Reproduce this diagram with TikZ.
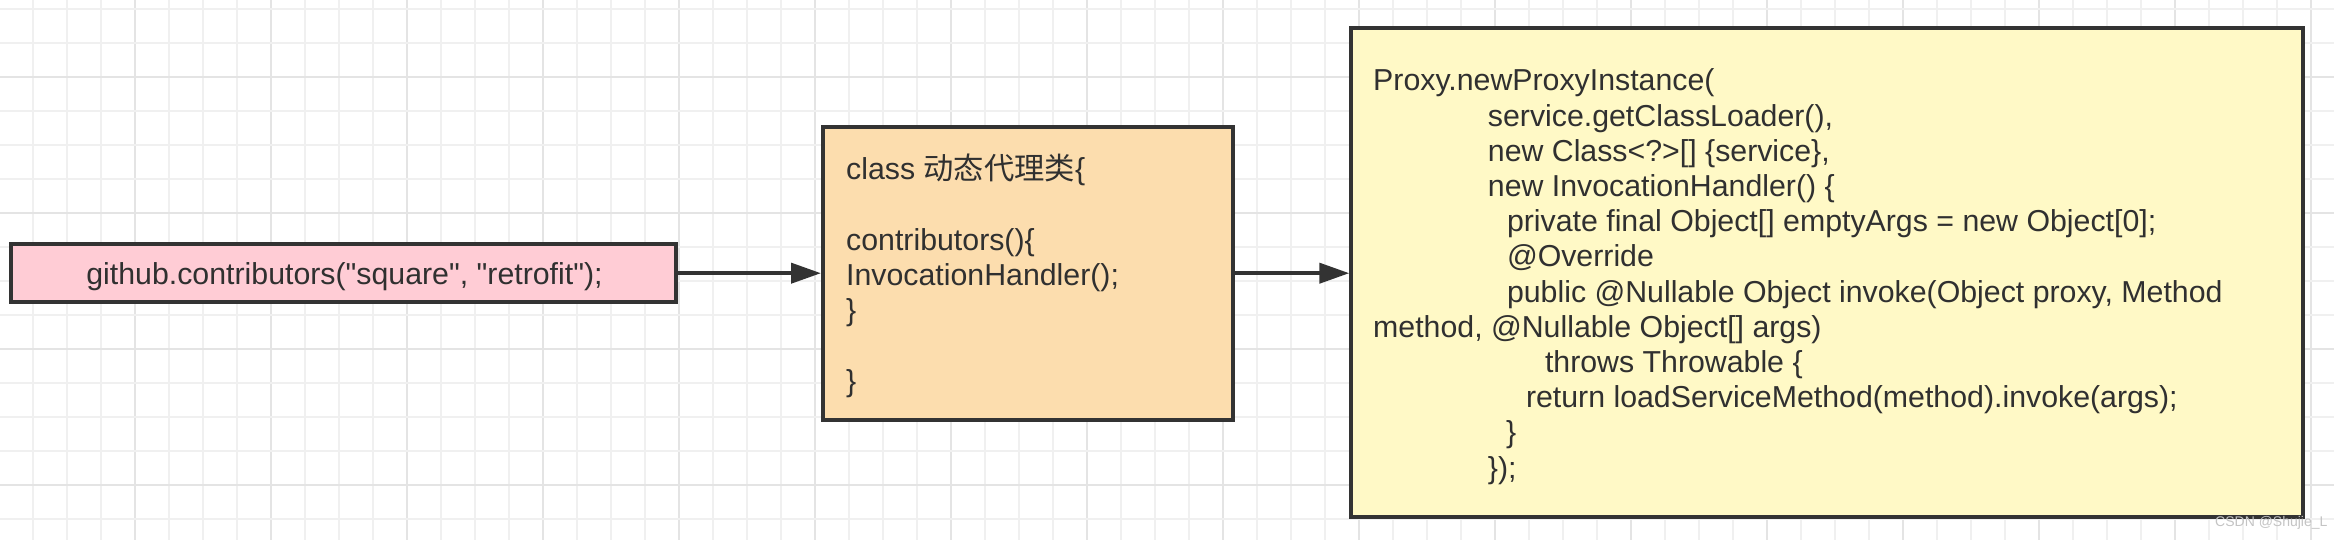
\documentclass[tikz,border=0pt]{standalone}
\usepackage{fontspec}
\setmainfont{Liberation Sans}[Ligatures=TeXOff]
\newfontfamily\cjkfont{Noto Sans CJK SC}
\usetikzlibrary{arrows.meta}
\definecolor{gridminor}{HTML}{F0F0F0}
\definecolor{gridmajor}{HTML}{E4E4E4}
\definecolor{boxline}{HTML}{333333}
\definecolor{pinkfill}{HTML}{FFCCD5}
\definecolor{orangefill}{HTML}{FCDDAE}
\definecolor{yellowfill}{HTML}{FFF9C6}
\definecolor{txt}{HTML}{303030}
\definecolor{wmark}{HTML}{C4C4C4}
\begin{document}
\begin{tikzpicture}[x=1pt,y=1pt,
  box/.style={draw=boxline, line width=4pt, rectangle, inner sep=0pt},
  code/.style={font=\fontsize{30.3}{35.2}\selectfont, text=txt, inner sep=0pt, align=left, anchor=west},
  arr/.style={draw=boxline, line width=4pt, -{Triangle[length=30pt,width=20pt]}},
  gminor/.style={draw=gridminor, line width=2pt},
  gmajor/.style={draw=gridmajor, line width=2pt}]
\useasboundingbox (0,0) rectangle (2334,540);
\fill[white] (0,0) rectangle (2334,540);
% grid
\foreach \k in {0,...,69}{
  \pgfmathtruncatemacro{\m}{mod(\k,4)}
  \ifnum\m=0
    \draw[gmajor] (-0.7+34*\k,0) -- (-0.7+34*\k,540);
  \else
    \draw[gminor] (-0.7+34*\k,0) -- (-0.7+34*\k,540);
  \fi
}
\foreach \k in {0,...,15}{
  \pgfmathtruncatemacro{\m}{mod(\k,4)}
  \ifnum\m=2
    \draw[gmajor] (0,530.7-34*\k) -- (2334,530.7-34*\k);
  \else
    \draw[gminor] (0,530.7-34*\k) -- (2334,530.7-34*\k);
  \fi
}
% boxes
\node[box, fill=pinkfill, minimum width=664.7pt, minimum height=58.5pt] (pink) at (343.65,266.8) {};
\node[box, fill=orangefill, minimum width=410.3pt, minimum height=292.7pt] (orange) at (1028.15,266.65) {};
\node[box, fill=yellowfill, minimum width=951.7pt, minimum height=489.9pt] (yellow) at (1827.15,267.45) {};
% arrows
\draw[arr] (pink.east) -- (pink.east -| orange.west);
\draw[arr] (orange.east |- pink.east) -- (pink.east -| yellow.west);
% texts
\node[code, anchor=base] (ptext) at (344.5,255.7) {github.contributors("square", "retrofit");};
\node[code] (otext) at (846,261.6) {class \smash{\cjkfont 动态代理类}\{\strut\\
\strut\\
contributors()\{\strut\\
InvocationHandler();\strut\\
\}\strut\\
\strut\\
\}\strut};
\node[code] (ytext) at (1373,262.6) {Proxy.newProxyInstance(\strut\\
\hspace*{114.7pt}service.getClassLoader(),\strut\\
\hspace*{114.7pt}new Class<?>[] \{service\},\strut\\
\hspace*{114.7pt}new InvocationHandler() \{\strut\\
\hspace*{133.8pt}private final Object[] emptyArgs = new Object[0];\strut\\
\hspace*{133.8pt}@Override\strut\\
\hspace*{133.8pt}public @Nullable Object invoke(Object proxy, Method\strut\\
method, @Nullable Object[] args)\strut\\
\hspace*{171.8pt}throws Throwable \{\strut\\
\hspace*{152.8pt}return loadServiceMethod(method).invoke(args);\strut\\
\hspace*{133pt}\}\strut\\
\hspace*{114.7pt}\});\strut};
\node[font=\fontsize{14}{16}\selectfont, text=wmark, anchor=base west, inner sep=0pt] (wm) at (2215,13) {CSDN @Shujie\_L};
\end{tikzpicture}
\end{document}
